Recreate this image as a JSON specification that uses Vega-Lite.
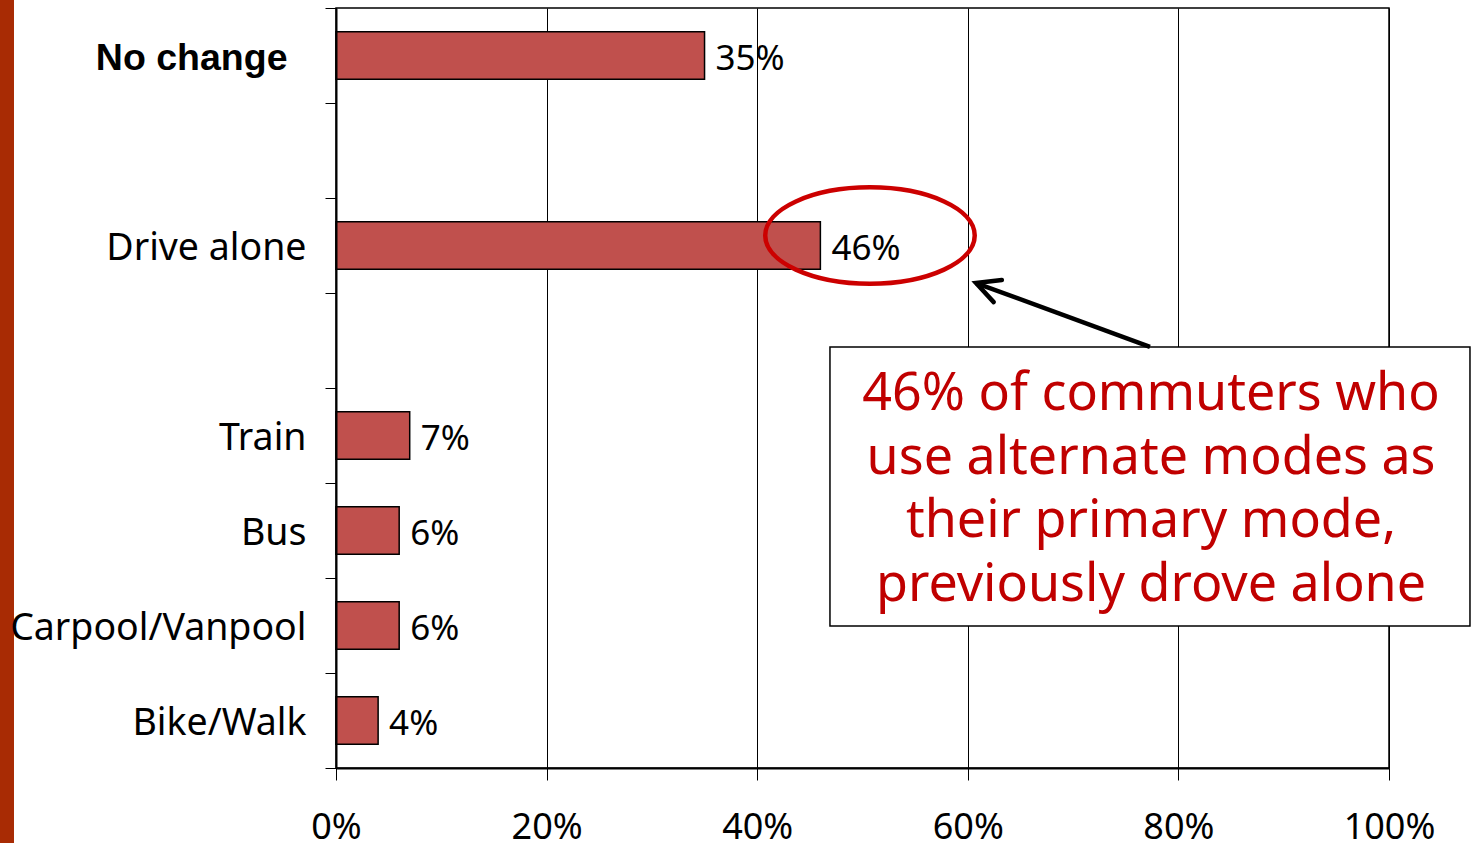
{
  "$schema": "https://vega.github.io/schema/vega-lite/v6.json",
  "width": 1053,
  "height": 760,
  "autosize": "none",
  "padding": {"left": 336, "top": 8, "right": 86, "bottom": 75},
  "background": "white",
  "config": {
    "view": {"stroke": "black", "strokeWidth": 1.5},
    "font": "Noto Sans",
    "axisX": {
      "title": null,
      "format": ".0%",
      "grid": true,
      "gridColor": "black",
      "gridWidth": 1,
      "gridOpacity": 1,
      "domainColor": "black",
      "domainWidth": 2,
      "tickColor": "black",
      "tickWidth": 1,
      "tickSize": 12,
      "labelColor": "black",
      "labelFont": "Noto Sans",
      "labelFontSize": 36,
      "labelPadding": 30,
      "labelFlush": false,
      "labelOverlap": false,
      "labelBound": false
    }
  },
  "datasets": {
    "modes": [
      {"mode": "No change", "share": 0.35},
      {"mode": "Drive alone", "share": 0.46},
      {"mode": "Train", "share": 0.07},
      {"mode": "Bus", "share": 0.06},
      {"mode": "Carpool/Vanpool", "share": 0.06},
      {"mode": "Bike/Walk", "share": 0.04}
    ],
    "stripe": [{"x": -0.3191, "x2": -0.3058, "y": -0.084, "y2": 8.79}],
    "box": [{"x": 0.4691, "x2": 1.0769, "y": 3.568, "y2": 6.505}],
    "callout": [{"x": 0.774, "y": 4.067, "note": "46% of commuters who\nuse alternate modes as\ntheir primary mode,\npreviously drove alone"}],
    "ellipse": [{"x": 0.5071, "y": 2.395}],
    "arrow": [
      {"x": 0.6078, "y": 2.895, "end": "head"},
      {"x": 0.773, "y": 3.568, "end": "tail"}
    ]
  },
  "layer": [
    {
      "data": {"name": "modes"},
      "encoding": {
        "y": {
          "field": "mode",
          "type": "nominal",
          "sort": null,
          "scale": {
            "domain": ["No change", " ", "Drive alone", "  ", "Train", "Bus", "Carpool/Vanpool", "Bike/Walk"],
            "paddingInner": 0,
            "paddingOuter": 0
          },
          "axis": {
            "title": null,
            "grid": false,
            "zindex": 1,
            "domainColor": "black",
            "domainWidth": 2,
            "tickColor": "black",
            "tickWidth": 1,
            "tickSize": 11,
            "tickBand": "extent",
            "labelColor": "black",
            "labelFontSize": 37.5,
            "labelFont": {"condition": {"test": "datum.value === 'No change'", "value": "Liberation Sans"}, "value": "Noto Sans"},
            "labelFontWeight": {"condition": {"test": "datum.value === 'No change'", "value": "bold"}, "value": "normal"},
            "labelPadding": {"condition": {"test": "datum.value === 'No change'", "value": 38}, "value": 19},
            "labelOffset": 3,
            "labelLimit": 0
          }
        },
        "x": {
          "field": "share",
          "type": "quantitative",
          "scale": {"domain": [0, 1], "nice": false},
          "axis": {"values": [0, 0.2, 0.4, 0.6, 0.8, 1]}
        }
      },
      "layer": [
        {"mark": {"type": "bar", "fill": "#C0504D", "stroke": "black", "strokeWidth": 1.5, "height": {"band": 0.5}}},
        {
          "mark": {"type": "text", "align": "left", "baseline": "middle", "dx": 11, "dy": 3, "fontSize": 35, "font": "Noto Sans", "color": "black"},
          "encoding": {"text": {"field": "share", "type": "quantitative", "format": ".0%"}}
        }
      ]
    },
    {
      "encoding": {
        "x": {"field": "x", "type": "quantitative", "scale": {"domain": [0, 1], "nice": false}, "axis": {"values": [0, 0.2, 0.4, 0.6, 0.8, 1]}},
        "y": {"field": "y", "type": "quantitative", "scale": {"domain": [0, 8], "reverse": true, "nice": false, "zero": false}, "axis": null}
      },
      "layer": [
        {
          "data": {"name": "stripe"},
          "mark": {"type": "rect", "fill": "#A82B04", "clip": false},
          "encoding": {"x2": {"field": "x2"}, "y2": {"field": "y2"}}
        },
        {
          "data": {"name": "box"},
          "mark": {"type": "rect", "fill": "white", "stroke": "black", "strokeWidth": 1.5, "clip": false},
          "encoding": {"x2": {"field": "x2"}, "y2": {"field": "y2"}}
        },
        {
          "data": {"name": "callout"},
          "mark": {"type": "text", "align": "center", "baseline": "middle", "lineBreak": "\n", "lineHeight": 63.5, "fontSize": 52, "font": "Noto Sans", "color": "#C00000", "clip": false},
          "encoding": {"text": {"field": "note"}}
        },
        {
          "data": {"name": "ellipse"},
          "mark": {"type": "point", "shape": "M 1 0 C 1 0.254 0.5523 0.46 0 0.46 C -0.5523 0.46 -1 0.254 -1 0 C -1 -0.254 -0.5523 -0.46 0 -0.46 C 0.5523 -0.46 1 -0.254 1 0 Z", "size": 43890, "filled": false, "stroke": "#CC0000", "strokeWidth": 4.5, "opacity": 1, "clip": false}
        },
        {
          "data": {"name": "arrow"},
          "mark": {"type": "line", "color": "black", "strokeWidth": 4.5, "clip": false}
        },
        {
          "data": {"name": "arrow"},
          "transform": [{"filter": "datum.end === 'head'"}],
          "mark": {"type": "point", "shape": "M -1 -0.51 L 0 0 L -1 0.51", "size": 2153, "angle": 200.2, "filled": false, "stroke": "black", "strokeWidth": 4.5, "strokeCap": "round", "strokeJoin": "miter", "opacity": 1, "clip": false}
        }
      ]
    }
  ],
  "resolve": {"scale": {"y": "independent"}}
}
